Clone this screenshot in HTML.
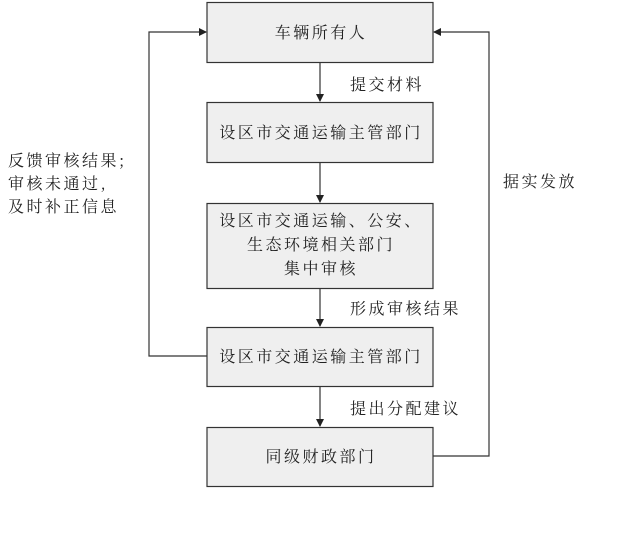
<!DOCTYPE html>
<html><head><meta charset="utf-8"><style>
body{margin:0;background:#fff;}
svg text{font-family:"Noto Serif CJK SC","WenQuanYi Zen Hei",serif;font-size:16px;fill:#222;letter-spacing:2.5px;}
</style></head><body>
<svg width="630" height="546" xmlns="http://www.w3.org/2000/svg">
<defs><marker id="a" markerWidth="8" markerHeight="8" refX="7" refY="4" orient="auto" markerUnits="userSpaceOnUse"><path d="M0,0 L8,4 L0,8 z" fill="#222"/></marker></defs>
<g fill="#efefef" stroke="#333" stroke-width="1.2">
<rect x="207" y="2.5" width="226" height="60"/>
<rect x="207" y="102.5" width="226" height="60"/>
<rect x="207" y="203.5" width="226" height="85"/>
<rect x="207" y="327.5" width="226" height="59"/>
<rect x="207" y="427.5" width="226" height="59"/>
</g>
<g stroke="#333" stroke-width="1.2" fill="none">
<line x1="320" y1="63" x2="320" y2="101" marker-end="url(#a)"/>
<line x1="320" y1="163" x2="320" y2="202" marker-end="url(#a)"/>
<line x1="320" y1="289" x2="320" y2="326" marker-end="url(#a)"/>
<line x1="320" y1="387" x2="320" y2="426" marker-end="url(#a)"/>
<polyline points="207,356 149,356 149,32 206,32" marker-end="url(#a)"/>
<polyline points="433,456 489,456 489,32 434,32" marker-end="url(#a)"/>
</g>
<g text-anchor="middle">
<text x="321" y="38">车辆所有人</text>
<text x="321" y="138">设区市交通运输主管部门</text>
<text x="321" y="226">设区市交通运输、公安、</text>
<text x="321" y="250">生态环境相关部门</text>
<text x="321" y="274">集中审核</text>
<text x="321" y="362">设区市交通运输主管部门</text>
<text x="321" y="462">同级财政部门</text>
</g>
<text x="350" y="90">提交材料</text>
<text x="350" y="314">形成审核结果</text>
<text x="350" y="414">提出分配建议</text>
<text x="8" y="166">反馈审核结果;</text>
<text x="8" y="189">审核未通过,</text>
<text x="8" y="212">及时补正信息</text>
<text x="503" y="187">据实发放</text>
</svg>
</body></html>
